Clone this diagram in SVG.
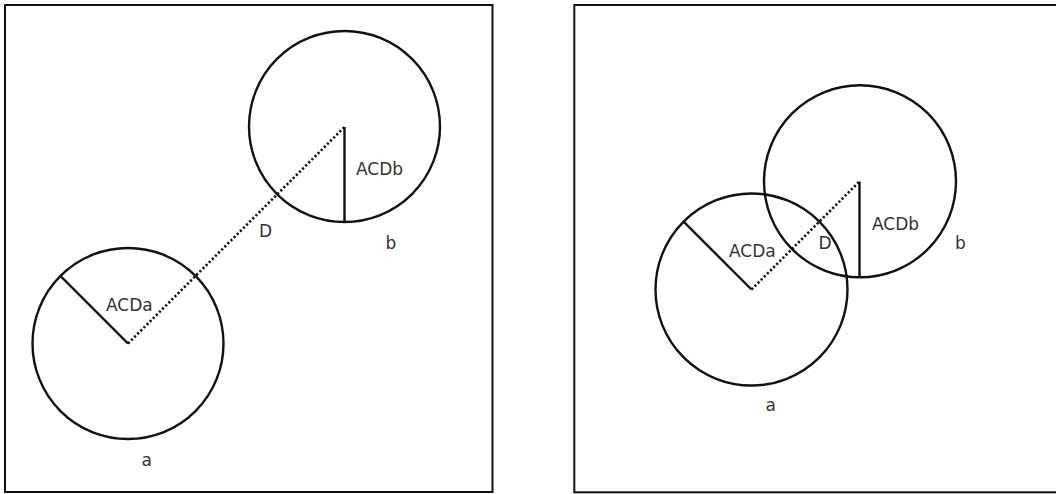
<svg xmlns="http://www.w3.org/2000/svg" width="1056" height="494" viewBox="0 0 1056 494">
<style>
.frame{fill:none;stroke:#111;stroke-width:2}
.circ{fill:none;stroke:#111;stroke-width:2.4}
.rad{stroke:#111;stroke-width:2.4;fill:none}
.dot{stroke:#111;stroke-width:2.6;stroke-dasharray:2.2,2.2;fill:none}
.lbl{font-family:"DejaVu Sans",sans-serif;font-size:17px;fill:#333}
</style>
<rect width="1056" height="494" fill="#fff"/>
<g id="panel-left">
<rect class="frame" x="5" y="5" width="487.5" height="487"/>
<g id="left-node-a">
<circle class="circ" cx="128" cy="343.5" r="95.5"/>
<line class="rad" x1="128" y1="343.5" x2="60.5" y2="276"/>
<text class="lbl" x="106" y="311">ACDa</text>
<text class="lbl" x="141.5" y="466">a</text>
</g>
<g id="left-node-b">
<circle class="circ" cx="344.5" cy="126.5" r="95.5"/>
<line class="rad" x1="344.5" y1="127" x2="344.5" y2="222"/>
<text class="lbl" x="356" y="175">ACDb</text>
<text class="lbl" x="385.5" y="248.5">b</text>
</g>
<g id="left-connectors">
<line class="dot" x1="128" y1="343.5" x2="344.5" y2="127"/>
<text class="lbl" x="259" y="236.5">D</text>
</g>
</g>
<g id="panel-right">
<rect class="frame" x="574.3" y="5" width="490" height="487.3"/>
<g id="right-node-a">
<circle class="circ" cx="751.5" cy="289.5" r="96"/>
<line class="rad" x1="751.5" y1="289.5" x2="683.6" y2="221.6"/>
<text class="lbl" x="729" y="256.7">ACDa</text>
<text class="lbl" x="765.5" y="411">a</text>
</g>
<g id="right-node-b">
<circle class="circ" cx="860" cy="181.3" r="96"/>
<line class="rad" x1="859.5" y1="181.5" x2="859.5" y2="277.3"/>
<text class="lbl" x="872" y="230">ACDb</text>
<text class="lbl" x="955" y="249">b</text>
</g>
<g id="right-connectors">
<line class="dot" x1="751.5" y1="289.5" x2="859.5" y2="181.5"/>
<text class="lbl" x="818.5" y="249">D</text>
</g>
</g>
</svg>
